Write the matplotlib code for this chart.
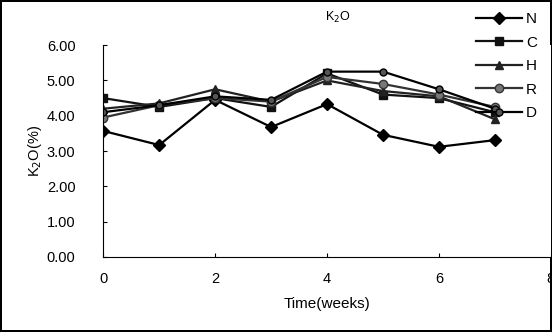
import matplotlib
matplotlib.use("Agg")
import matplotlib.pyplot as plt

weeks = [0, 1, 2, 3, 4, 5, 6, 7]
N = [3.57, 3.17, 4.45, 3.68, 4.33, 3.46, 3.12, 3.31]
C = [4.50, 4.25, 4.50, 4.25, 5.20, 4.60, 4.50, 4.10]
H = [4.20, 4.35, 4.75, 4.40, 5.00, 4.70, 4.55, 3.90]
R = [3.95, 4.30, 4.50, 4.40, 5.10, 4.90, 4.60, 4.25]
D = [4.10, 4.30, 4.55, 4.45, 5.25, 5.25, 4.75, 4.20]
series_names = ["N", "C", "H", "R", "D"]

plt.rcParams['font.family'] = ['Liberation Sans', 'DejaVu Sans']

fig = plt.figure(figsize=(5.52, 3.32), dpi=100)
fig.patch.set_edgecolor('black')
fig.patch.set_linewidth(1.5)
ax = fig.add_axes([0.187, 0.226, 0.811, 0.638])

styles = [
    dict(marker='D', color='black', mfc='black', ms=6),
    dict(marker='s', color='#111111', mfc='#111111', ms=6),
    dict(marker='^', color='#222222', mfc='#222222', ms=6),
    dict(marker='o', color='#333333', mfc='#777777', ms=6),
    dict(marker='o', color='black', mfc='#555555', ms=5),
]
for name, vals, st in zip(series_names, [N, C, H, R, D], styles):
    ax.plot(weeks, vals, lw=1.6, label=name, **st)

ax.set_xlim(0, 8)
ax.set_ylim(0, 6)
ax.set_xticks([0, 2, 4, 6, 8])
ax.set_yticks([0, 1, 2, 3, 4, 5, 6])
ax.set_yticklabels([f"{v:.2f}" for v in range(7)])
ax.tick_params(direction='in', length=3, labelsize=10.5)
ax.tick_params(axis='x', pad=11)
ax.tick_params(axis='y', pad=20)
ax.spines['top'].set_visible(False)
ax.spines['right'].set_visible(False)

ax.set_xlabel("Time(weeks)", fontsize=11, labelpad=8)
ax.set_ylabel("K$_2$O(%)", fontsize=10.5, labelpad=2)
fig.text(0.612, 0.946, "K$_2$O", fontsize=9, ha='center', va='center')

ax.legend(loc='upper right', bbox_to_anchor=(1.0, 1.22), frameon=False,
          fontsize=11, handlelength=3.0, labelspacing=0.62, handletextpad=0.3)

fig.savefig("out.png", dpi=100)
